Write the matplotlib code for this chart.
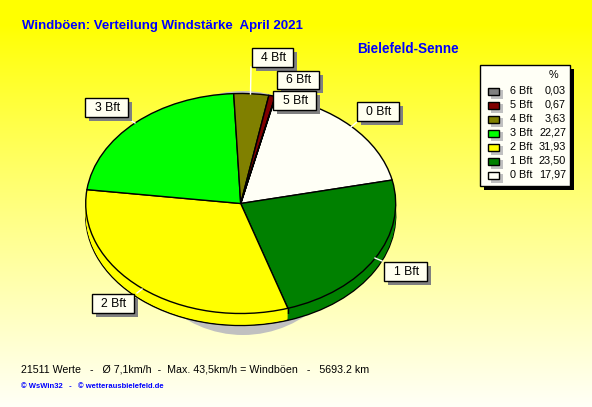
import numpy as np
import matplotlib
matplotlib.use("Agg")
import matplotlib.pyplot as plt
from matplotlib.patches import Rectangle, Ellipse

plt.rcParams['font.family'] = ['Liberation Sans', 'DejaVu Sans']

W, H = 592, 407
categories = ["0 Bft", "1 Bft", "2 Bft", "3 Bft", "4 Bft", "5 Bft", "6 Bft"]
values = [17.97, 23.50, 31.93, 22.27, 3.63, 0.67, 0.03]
value_labels = ["17,97", "23,50", "31,93", "22,27", "3,63", "0,67", "0,03"]
colors = ["#FFFFF6", "#008000", "#FFFF00", "#00FF00", "#808000", "#800000", "#808080"]

fig = plt.figure(figsize=(W / 100, H / 100), dpi=100)

# background and pixel-space overlay
bg = fig.add_axes([0, 0, 1, 1])
bg.set_xlim(0, W)
bg.set_ylim(H, 0)
bg.axis("off")
grad = np.ones((H, 1, 3))
t = np.clip((np.arange(H) - 25) / (H - 25), 0, 1)
grad[:, 0, 2] = t ** 0.9 * 0.97
bg.imshow(grad, extent=(0, W, H, 0), aspect="auto", zorder=0)
bg.add_patch(Ellipse((243, 213), 232, 244, fc="#C0C0C0", ec="none", zorder=1))

# pie
CX, CY, RX, RY, DEPTH = 240.7, 203.5, 155, 110, 12
pie = fig.add_axes([(CX - RX) / W, 1 - (CY + RY) / H, 2 * RX / W, 2 * RY / H])
pie.patch.set_alpha(0)
START = 77
for d in range(DEPTH, 0, -1):
    edge = {"edgecolor": "black", "linewidth": 1.0} if d == DEPTH else {"linewidth": 0}
    pie.pie(values, colors=colors, startangle=START, counterclock=False,
            center=(0, -d / RY), radius=1, wedgeprops=edge)
pie.pie(values, colors=colors, startangle=START, counterclock=False,
        center=(0, 0), radius=1, wedgeprops={"edgecolor": "black", "linewidth": 1.0})
# side seam at the 1 Bft / 2 Bft boundary
ang = np.deg2rad(START - 3.6 * sum(values[:2]))
pie.plot([np.cos(ang)] * 2, [np.sin(ang), np.sin(ang) - DEPTH / RY], color="black", lw=1.0, zorder=5)
pie.set_aspect("auto")
pie.set_xlim(-1, 1)
pie.set_ylim(-1, 1)
pie.axis("off")

# overlay on top of the pie
ov = fig.add_axes([0, 0, 1, 1])
ov.patch.set_alpha(0)
ov.set_xlim(0, W)
ov.set_ylim(H, 0)
ov.axis("off")

label_boxes = {
    "4 Bft": (252, 48, 293, 67, [(251, 67), (250.5, 94)]),
    "6 Bft": (277, 70.5, 319, 89, None),
    "5 Bft": (273, 91, 316, 110, None),
    "0 Bft": (357, 102, 399, 121, [(357, 122), (351, 127)]),
    "3 Bft": (85, 98, 128, 117, [(130, 120), (135, 123)]),
    "1 Bft": (384, 262, 427, 281, [(382, 261), (375, 258)]),
    "2 Bft": (92, 294, 134, 313, [(137, 293), (142, 289)]),
}
for name, (x0, y0, x1, y1, lead) in label_boxes.items():
    if lead:
        ov.plot(*zip(*lead), color="white", lw=1, zorder=2)
    ov.add_patch(Rectangle((x0 + 4, y0 + 4), x1 - x0, y1 - y0, fc="#808080", ec="none", zorder=3))
    ov.add_patch(Rectangle((x0, y0), x1 - x0, y1 - y0, fc="#FFFFF0", ec="black", lw=1, zorder=4))
    ov.text((x0 + x1) / 2 + 1, (y0 + y1) / 2 + 0.5, name, fontsize=8.8, ha="center", va="center",
            color="black", zorder=5)

# legend
ov.add_patch(Rectangle((484, 69), 90, 121, fc="black", ec="none", zorder=3))
ov.add_patch(Rectangle((480, 65), 90, 121, fc="#FFFFF6", ec="black", lw=1, zorder=4))
ov.text(553, 75, "%", fontsize=7.8, ha="center", va="center", zorder=5)
for i, k in enumerate(range(len(categories) - 1, -1, -1)):
    y = 91 + i * 14
    ov.add_patch(Rectangle((491, y - 1), 12, 9, fc="#C0C0C0", ec="none", zorder=5))
    ov.add_patch(Rectangle((487.5, y - 3.5), 11, 7, fc=colors[k], ec="black", lw=1, zorder=6))
    ov.text(510, y - 0.5, categories[k], fontsize=7.8, ha="left", va="center", zorder=6)
    ov.text(566, y - 0.5, value_labels[k], fontsize=7.8, ha="right", va="center", zorder=6)

# text
ov.text(22, 25.5, "Windböen: Verteilung Windstärke  April 2021", fontsize=9.55, fontweight="bold",
        color="#0000FF", ha="left", va="center")
ov.text(357, 49, "Bielefeld-Senne", fontsize=9.75, fontweight="bold", color="#0000FF",
        ha="left", va="center")
ov.text(21, 369, "21511 Werte   -   Ø 7,1km/h  -  Max. 43,5km/h = Windböen   -   5693.2 km",
        fontsize=7.7, color="black", ha="left", va="center")
ov.text(21, 386, "© WsWin32   -   © wetterausbielefeld.de", fontsize=5.5, fontweight="bold",
        color="#0000FF", ha="left", va="center")

fig.savefig("out.png", dpi=100)
